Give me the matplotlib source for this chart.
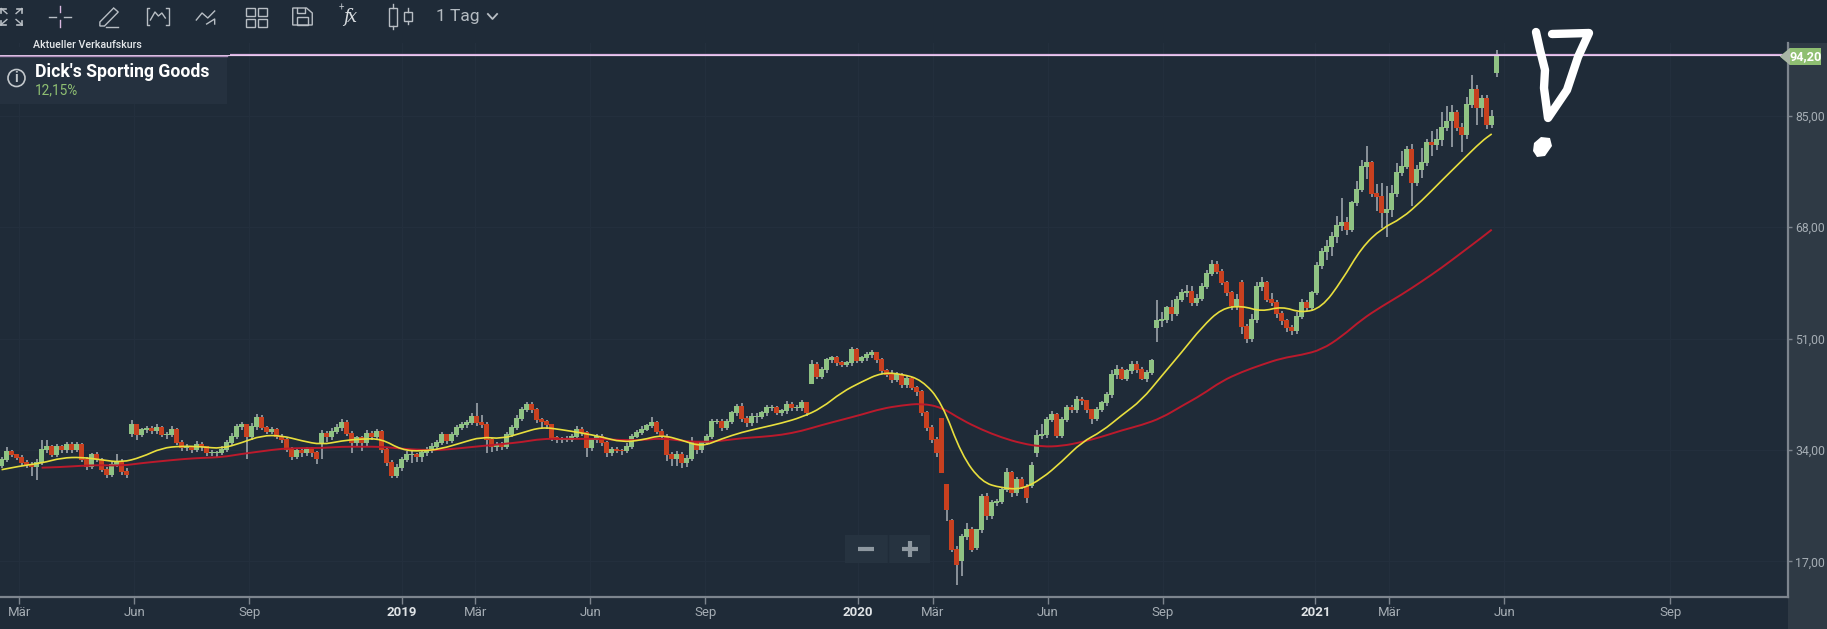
import matplotlib
matplotlib.use('Agg')
import matplotlib.dates as mdates
import matplotlib.pyplot as plt
from matplotlib.patches import Circle, PathPatch, Polygon, Rectangle
from matplotlib.path import Path
import numpy as np
import pandas as pd

plt.rcParams['font.family'] = ['Roboto', 'DejaVu Sans']

# One candle every four calendar days
first_candle = '2018-02-15'
opens = [
    31.6, 32.5, 33.7, 33.2, 32.8, 32.0, 31.7, 31.4, 32.0, 34.0,
    34.5, 33.2, 34.5, 34.0, 34.8, 34.0, 34.8, 32.5, 31.4, 33.2,
    32.5, 31.0, 30.2, 31.7, 32.2, 30.6, 36.4, 37.8, 36.3, 37.0,
    37.2, 36.9, 37.4, 36.3, 36.3, 37.0, 35.1, 34.3, 34.3, 34.0,
    34.8, 34.5, 33.5, 33.5, 33.5, 34.0, 35.1, 36.0, 37.5, 37.8,
    36.0, 37.5, 38.9, 37.3, 36.8, 37.1, 36.0, 35.5, 34.0, 33.0,
    33.8, 33.5, 34.0, 33.5, 34.9, 36.5, 36.0, 36.8, 37.3, 38.1,
    36.5, 35.0, 35.8, 35.0, 36.5, 36.0, 36.8, 34.0, 32.0, 30.0,
    31.2, 32.5, 33.3, 33.3, 33.0, 33.5, 34.0, 34.5, 35.0, 36.3,
    35.3, 36.3, 37.3, 37.8, 38.1, 39.1, 38.1, 37.8, 35.5, 34.5,
    34.8, 34.5, 36.3, 37.3, 38.8, 40.1, 40.9, 40.1, 38.6, 38.3,
    37.8, 35.8, 35.5, 35.6, 35.6, 36.0, 37.1, 36.6, 34.3, 35.5,
    36.0, 35.0, 33.5, 34.0, 33.9, 33.8, 34.5, 36.0, 36.6, 37.1,
    37.6, 38.1, 36.8, 36.0, 33.3, 32.7, 33.3, 32.0, 32.7, 35.0,
    34.0, 35.0, 36.0, 38.3, 38.3, 37.3, 38.3, 39.6, 40.6, 38.8,
    38.1, 39.1, 39.1, 39.6, 40.4, 40.4, 39.6, 39.9, 40.9, 40.4,
    40.4, 41.1, 44.0, 47.0, 45.2, 46.2, 47.7, 48.0, 47.2, 47.0,
    47.2, 49.3, 47.5, 48.0, 48.5, 48.8, 47.7, 46.0, 45.5, 44.7,
    45.5, 43.9, 44.9, 43.4, 42.9, 39.6, 37.3, 35.5, 38.8, 28.6,
    23.2, 18.8, 17.0, 20.8, 21.8, 19.0, 21.8, 26.9, 23.9, 25.9,
    26.1, 27.9, 30.5, 27.4, 29.4, 28.4, 28.5, 33.6, 36.1, 36.3,
    38.6, 39.4, 36.1, 38.6, 40.4, 40.1, 41.6, 41.4, 40.1, 38.8,
    40.1, 41.1, 42.4, 45.5, 46.2, 44.9, 46.0, 47.0, 46.2, 44.9,
    45.7, 52.6, 53.6, 53.8, 55.6, 54.8, 56.9, 57.9, 58.1, 56.4,
    57.1, 58.9, 60.9, 62.2, 61.2, 59.4, 57.9, 55.9, 59.4, 52.8,
    51.0, 53.8, 58.9, 59.4, 56.9, 56.4, 54.8, 53.6, 52.6, 52.1,
    54.3, 56.4, 55.6, 57.9, 62.0, 64.2, 65.0, 66.5, 68.1, 68.6,
    67.6, 71.6, 73.7, 77.2, 77.7, 73.1, 72.6, 70.1, 70.6, 73.1,
    76.2, 77.2, 79.8, 74.7, 76.7, 77.7, 80.8, 80.5, 81.3, 83.1,
    84.1, 85.4, 83.1, 82.0, 86.6, 88.9, 86.1, 87.6, 83.6, 91.5,
]
closes = [
    32.5, 33.7, 33.2, 32.8, 32.0, 31.7, 31.4, 32.0, 34.0, 34.5,
    33.2, 34.5, 34.0, 34.8, 34.0, 34.8, 32.5, 31.4, 33.2, 32.5,
    31.0, 30.2, 31.7, 32.2, 30.6, 30.2, 37.8, 36.3, 37.0, 37.2,
    36.9, 37.4, 36.3, 36.3, 37.0, 35.1, 34.3, 34.3, 34.0, 34.8,
    34.5, 33.5, 33.5, 33.5, 34.0, 35.1, 36.0, 37.5, 37.8, 36.0,
    37.5, 38.9, 37.3, 36.8, 37.1, 36.0, 35.5, 34.0, 33.0, 33.8,
    33.5, 34.0, 33.5, 32.7, 36.5, 36.0, 36.8, 37.3, 38.1, 36.5,
    35.0, 35.8, 35.0, 36.5, 36.0, 36.8, 34.0, 32.0, 30.0, 31.2,
    32.5, 33.3, 33.3, 33.0, 33.5, 34.0, 34.5, 35.0, 36.3, 35.3,
    36.3, 37.3, 37.8, 38.1, 39.1, 38.1, 37.8, 35.5, 34.5, 34.8,
    34.5, 36.3, 37.3, 38.8, 40.1, 40.9, 40.1, 38.6, 38.3, 37.8,
    35.8, 35.5, 35.6, 35.6, 36.0, 37.1, 36.6, 34.3, 35.5, 36.0,
    35.0, 33.5, 34.0, 33.9, 33.8, 34.5, 36.0, 36.6, 37.1, 37.6,
    38.1, 36.8, 36.0, 33.3, 32.7, 33.3, 32.0, 32.7, 35.0, 34.0,
    35.0, 36.0, 38.3, 38.3, 37.3, 38.3, 39.6, 40.6, 38.8, 38.1,
    39.1, 39.1, 39.6, 40.4, 40.4, 39.6, 39.9, 40.9, 40.4, 40.4,
    41.1, 39.6, 47.0, 45.2, 46.2, 47.7, 48.0, 47.2, 47.0, 47.2,
    49.3, 47.5, 48.0, 48.5, 48.8, 47.7, 46.0, 45.5, 44.7, 45.5,
    43.9, 44.9, 43.4, 42.9, 39.6, 37.3, 35.5, 33.5, 30.5, 24.9,
    18.8, 16.5, 20.8, 21.8, 18.8, 21.8, 26.9, 23.9, 25.9, 26.1,
    27.9, 30.5, 27.4, 29.4, 28.4, 26.7, 31.5, 36.1, 36.3, 38.6,
    39.4, 36.1, 38.6, 40.4, 40.1, 41.6, 41.4, 40.1, 38.8, 40.1,
    41.1, 42.4, 45.5, 46.2, 44.9, 46.0, 47.0, 46.2, 44.9, 45.7,
    47.5, 53.6, 53.8, 55.6, 54.8, 56.9, 57.9, 58.1, 56.4, 57.1,
    58.9, 60.9, 62.2, 61.2, 59.4, 57.9, 55.9, 56.9, 52.8, 51.0,
    53.8, 58.9, 59.4, 56.9, 56.4, 54.8, 53.6, 52.6, 52.1, 54.3,
    56.4, 55.6, 57.9, 62.0, 64.2, 65.0, 66.5, 68.1, 68.6, 67.6,
    71.6, 73.7, 77.2, 77.7, 73.1, 72.6, 70.1, 70.6, 73.1, 76.2,
    77.2, 79.8, 74.7, 76.7, 77.7, 80.8, 80.5, 81.3, 83.1, 84.1,
    85.4, 83.1, 82.0, 86.6, 88.9, 86.1, 87.6, 83.6, 84.8, 94.2,
]
highs = [
    33.0, 34.4, 34.0, 33.4, 33.2, 32.4, 32.2, 32.6, 35.5, 35.6,
    34.8, 34.9, 34.8, 35.2, 35.2, 35.2, 35.0, 32.9, 33.6, 33.7,
    32.8, 31.4, 32.2, 33.4, 32.6, 31.2, 38.6, 38.0, 37.4, 37.6,
    37.6, 38.0, 37.6, 36.8, 37.6, 37.3, 35.5, 34.9, 34.6, 35.3,
    35.2, 34.6, 34.0, 33.9, 34.6, 35.6, 36.6, 38.0, 38.3, 38.0,
    38.1, 39.5, 39.4, 37.7, 37.5, 37.4, 36.4, 35.8, 34.4, 34.2,
    34.2, 34.4, 34.4, 33.8, 37.0, 36.9, 37.3, 37.9, 38.8, 38.6,
    36.9, 36.2, 36.2, 37.0, 36.9, 37.2, 37.0, 34.4, 32.4, 31.8,
    33.0, 33.9, 34.0, 33.6, 33.9, 34.5, 35.0, 35.5, 36.8, 36.5,
    36.7, 37.8, 38.2, 38.6, 39.6, 41.1, 39.4, 38.2, 35.9, 35.2,
    35.2, 36.8, 37.8, 39.4, 40.6, 41.3, 41.3, 40.4, 38.9, 38.6,
    38.0, 36.1, 36.0, 36.1, 36.4, 37.6, 37.5, 36.9, 35.9, 36.5,
    36.4, 35.4, 34.4, 34.5, 34.2, 35.0, 36.5, 37.1, 37.6, 38.0,
    39.0, 38.4, 37.2, 36.5, 33.7, 33.8, 33.7, 33.2, 36.0, 35.3,
    35.4, 36.5, 38.8, 38.8, 38.7, 38.8, 40.0, 41.0, 41.2, 39.2,
    39.6, 39.6, 40.0, 40.8, 40.9, 40.7, 40.3, 41.4, 41.3, 40.8,
    41.6, 41.3, 47.7, 47.4, 46.6, 48.1, 48.4, 48.3, 47.6, 47.6,
    49.7, 49.6, 48.4, 48.9, 49.2, 49.0, 48.0, 46.4, 46.2, 45.9,
    45.7, 45.3, 45.2, 43.8, 43.2, 40.0, 37.8, 36.0, 38.8, 28.8,
    23.4, 19.4, 21.2, 22.9, 22.2, 22.0, 27.3, 27.4, 26.4, 26.6,
    28.4, 31.2, 30.8, 29.9, 29.9, 28.8, 32.1, 37.0, 37.9, 39.0,
    39.9, 39.7, 39.0, 40.9, 40.8, 42.2, 42.1, 41.7, 40.3, 40.5,
    41.5, 42.8, 46.2, 47.0, 46.6, 46.4, 47.6, 47.5, 46.6, 46.2,
    47.9, 56.9, 55.0, 56.0, 56.8, 57.5, 58.6, 59.2, 59.0, 57.8,
    59.4, 61.5, 63.0, 62.8, 61.6, 59.8, 58.2, 57.8, 60.0, 53.2,
    54.8, 59.6, 60.4, 59.8, 57.9, 56.8, 55.2, 54.0, 53.0, 55.0,
    57.0, 56.9, 58.2, 62.6, 64.8, 66.0, 67.2, 69.7, 72.5, 69.5,
    72.0, 75.0, 78.3, 80.3, 78.0, 74.5, 74.7, 74.2, 74.4, 77.8,
    79.6, 80.4, 80.6, 77.4, 80.0, 81.4, 82.6, 83.0, 85.5, 86.4,
    86.6, 85.9, 83.9, 87.8, 91.2, 89.6, 88.1, 88.2, 85.9, 95.0,
]
lows = [
    31.2, 32.2, 32.9, 32.4, 31.6, 31.3, 30.1, 29.4, 31.7, 33.6,
    32.9, 32.9, 33.6, 33.6, 33.6, 33.7, 32.2, 31.0, 31.1, 32.1,
    30.6, 29.8, 29.9, 31.4, 30.2, 29.8, 36.0, 35.6, 36.0, 36.6,
    36.4, 36.5, 36.0, 35.7, 36.0, 34.8, 33.9, 33.8, 33.5, 33.7,
    33.9, 33.1, 33.1, 33.0, 33.2, 33.7, 34.8, 35.7, 37.1, 32.6,
    35.6, 37.1, 37.0, 36.4, 36.4, 35.7, 35.1, 33.7, 32.5, 32.6,
    33.0, 33.1, 33.0, 31.8, 32.6, 35.2, 35.6, 36.4, 36.9, 36.1,
    33.6, 34.5, 33.9, 34.4, 35.6, 35.5, 33.5, 31.6, 29.7, 29.8,
    30.8, 32.1, 32.0, 32.1, 32.1, 33.1, 33.6, 34.1, 34.7, 34.9,
    35.0, 36.0, 37.0, 37.4, 37.8, 37.6, 37.4, 33.6, 33.7, 33.9,
    34.0, 34.2, 36.0, 37.0, 38.4, 39.8, 39.7, 38.1, 37.3, 37.2,
    35.3, 35.0, 35.1, 35.2, 35.2, 35.7, 36.2, 32.9, 33.9, 35.1,
    34.6, 33.0, 33.1, 33.5, 33.3, 33.5, 34.2, 35.8, 36.3, 36.9,
    37.3, 36.4, 35.5, 32.3, 31.6, 31.5, 31.2, 31.4, 32.3, 33.4,
    33.5, 34.7, 35.7, 37.9, 36.9, 37.0, 38.0, 39.2, 38.3, 37.5,
    37.7, 38.1, 38.8, 39.2, 39.9, 39.3, 39.2, 39.5, 39.9, 39.9,
    40.0, 39.2, 44.0, 44.8, 44.8, 45.8, 47.3, 46.8, 46.7, 46.7,
    46.8, 47.2, 47.2, 47.6, 48.1, 47.3, 45.6, 45.1, 44.2, 44.4,
    43.5, 43.5, 43.1, 42.2, 39.2, 36.9, 35.1, 32.9, 30.5, 23.2,
    18.4, 13.4, 14.8, 20.2, 18.4, 18.7, 21.4, 23.3, 23.5, 25.5,
    25.8, 27.6, 26.9, 27.0, 28.0, 25.9, 28.2, 33.0, 35.7, 35.9,
    38.2, 35.9, 35.8, 38.2, 39.7, 39.7, 40.8, 39.6, 37.9, 38.4,
    39.8, 40.7, 42.0, 44.9, 44.6, 44.5, 45.6, 45.8, 44.6, 44.4,
    45.4, 50.5, 52.8, 53.4, 53.7, 54.4, 56.6, 57.4, 55.9, 55.9,
    56.7, 58.5, 60.5, 60.8, 59.1, 57.5, 55.3, 55.4, 51.7, 50.3,
    50.4, 53.4, 58.2, 56.5, 55.9, 54.2, 53.0, 52.0, 51.5, 51.7,
    54.0, 55.2, 55.2, 57.6, 61.6, 63.0, 63.6, 65.6, 67.4, 66.8,
    67.2, 71.2, 73.3, 75.4, 72.6, 70.5, 67.8, 66.5, 69.6, 72.6,
    75.8, 76.8, 71.2, 74.3, 75.5, 77.3, 78.8, 79.8, 80.3, 82.6,
    80.2, 82.6, 79.5, 81.5, 86.1, 83.5, 84.8, 82.9, 83.1, 90.9,
]

# Moving averages, one reading every 16 days plus the last candle
ma_fast = [
    31.0, 31.6, 32.0, 32.8, 32.9, 32.5, 32.1, 32.9, 34.3, 34.6,
    34.5, 34.2, 35.1, 36.2, 36.2, 35.4, 34.8, 35.4, 35.7, 35.7,
    34.0, 33.8, 34.2, 35.1, 36.0, 35.7, 36.6, 37.5, 37.1, 36.6,
    36.0, 35.2, 35.5, 36.3, 35.5, 34.5, 35.7, 36.7, 37.4, 38.1,
    39.0, 40.4, 42.8, 44.4, 45.8, 45.6, 44.7, 41.3, 33.2, 29.1,
    28.2, 28.0, 29.6, 32.2, 35.2, 36.8, 39.3, 41.6, 45.3, 48.9,
    52.7, 55.6, 56.0, 55.1, 55.9, 54.9, 55.7, 59.8, 64.9, 67.8,
    69.3, 72.0, 75.1, 78.1, 81.1, 82.2,
]
ma_slow = [
    31.3, 31.4, 31.6, 31.7, 31.6, 32.0, 32.3, 32.6, 32.8, 32.9,
    33.4, 33.8, 34.2, 34.3, 34.3, 34.5, 34.5, 34.5, 34.2, 34.0,
    34.0, 34.3, 34.6, 34.9, 35.2, 35.7, 35.7, 35.7, 35.7, 35.5,
    35.5, 35.8, 35.4, 35.2, 35.4, 35.8, 36.0, 36.3, 36.9, 37.8,
    38.6, 39.4, 40.3, 40.8, 41.1, 40.5, 38.6, 37.1, 35.9, 35.0,
    34.5, 34.6, 35.2, 36.0, 37.0, 37.8, 38.9, 40.7, 42.4, 44.5,
    45.9, 47.0, 48.0, 48.5, 49.3, 51.3, 53.9, 55.9, 57.7, 59.7,
    61.8, 64.1, 66.4, 67.6,
]

current_price = 94.20
price_ticks = [17, 34, 51, 68, 85]
# the platform spaces the months after the last candle wider than calendar time
month_ticks = ['2018-03-01', '2018-06-01', '2018-09-01', '2019-01-01', '2019-03-01',
               '2019-06-01', '2019-09-01', '2020-01-01', '2020-03-01', '2020-06-01',
               '2020-09-01', '2021-01-01', '2021-03-01', '2021-06-01', '2021-10-12']
month_labels = ['Mär', 'Jun', 'Sep', '2019', 'Mär', 'Jun', 'Sep', '2020', 'Mär', 'Jun',
                'Sep', '2021', 'Mär', 'Jun', 'Sep']

WIDTH, HEIGHT = 1827, 629
BG = '#1f2b38'
PANEL = '#2f3a45'
AXIS = '#7d858e'
LABEL = '#a5adb4'
ICON = '#b8bec4'
UP = '#8fc283'
DOWN = '#c8401f'
WICK = '#a8aeb4'
GREEN = '#8fbf72'


def draw_candles(ax, dates):
    x = mdates.date2num(dates)
    o, c = np.array(opens), np.array(closes)
    colors = [UP if c[i] >= o[i] else DOWN for i in range(len(c))]
    ax.vlines(x, lows, highs, color=WICK, linewidth=1.1, zorder=3)
    ax.bar(x, np.abs(c - o) + 0.15, width=3.6, bottom=np.minimum(o, c), color=colors,
           linewidth=0, zorder=4)


def draw_smooth_line(ax, dates, values, color, lw, zorder):
    """Rounds the corners of a reading-to-reading line, the readings stay as they are."""
    x = mdates.date2num(dates)
    y = np.array(values)
    verts = [(x[0], y[0])]
    codes = [Path.MOVETO]
    for i in range(1, len(x) - 1):
        verts.append((x[i], y[i]))
        codes.append(Path.CURVE3)
        verts.append(((x[i] + x[i + 1]) / 2, (y[i] + y[i + 1]) / 2))
        codes.append(Path.CURVE3)
    verts.append((x[-1], y[-1]))
    codes.append(Path.LINETO)
    ax.add_patch(PathPatch(Path(verts, codes), fill=False, ec=color, lw=lw, zorder=zorder))


def draw_toolbar(tb):
    y = 16.5
    # expand arrows
    for sx, sy in [(-1, -1), (1, -1), (-1, 1), (1, 1)]:
        x0, y0 = 10 + sx * 4, y + sy * 3
        x1, y1 = 10 + sx * 9, y + sy * 8
        tb.plot([x0, x1], [y0, y1], color=ICON, lw=1)
        tb.plot([x1, x1 - sx * 4], [y1, y1], color=ICON, lw=1.2)
        tb.plot([x1, x1], [y1, y1 - sy * 4], color=ICON, lw=1.2)
    # crosshair
    tb.plot([43, 49], [y, y], color=ICON, lw=1)
    tb.plot([56, 62], [y, y], color=ICON, lw=1)
    tb.plot([52.5, 52.5], [6, 12], color='#d9b8e0', lw=1)
    tb.plot([52.5, 52.5], [20, 27], color='#d9b8e0', lw=1)
    # pencil
    tb.add_patch(Polygon([(87, 22), (87, 26), (91, 26), (103, 12), (99, 8)],
                         fill=False, ec=ICON, lw=1))
    tb.plot([92, 103], [26.5, 26.5], color=ICON, lw=1)
    # bracket chart
    tb.plot([130, 128, 128, 130], [8, 8, 25, 25], color=ICON, lw=1)
    tb.plot([145, 147, 147, 145], [8, 8, 25, 25], color=ICON, lw=1)
    tb.plot([131, 135, 138, 141, 144], [20, 12, 16, 13, 18], color=ICON, lw=1)
    # line with arrow
    tb.plot([171, 176, 181, 187], [20, 13, 18, 11], color=ICON, lw=1)
    tb.plot([180, 187, 187], [24, 19, 24], color=ICON, lw=1)
    # grid
    for gx in [214, 225]:
        for gy in [8, 19]:
            tb.add_patch(Rectangle((gx, gy), 8, 7.5, fill=False, ec=ICON, lw=1))
    # floppy
    tb.add_patch(Polygon([(255, 8), (267, 8), (272, 13), (272, 25), (255, 25)],
                         fill=False, ec=ICON, lw=1))
    tb.add_patch(Rectangle((259, 17), 9, 8, fill=False, ec=ICON, lw=1))
    tb.plot([259, 259, 266, 266], [8, 13, 13, 8], color=ICON, lw=1)
    # fx
    tb.text(305, y + 1, '$f\\!x$', color='#d8dce0', fontsize=13, ha='center', va='center',
            fontweight='bold', math_fontfamily='dejavuserif')
    tb.text(297, 8, '+', color=ICON, fontsize=7, ha='center', va='center')
    # candle type
    tb.add_patch(Rectangle((339, 8), 7, 18, fill=False, ec=ICON, lw=1))
    tb.plot([342.5, 342.5], [4, 8], color=ICON, lw=1)
    tb.plot([342.5, 342.5], [26, 29], color=ICON, lw=1)
    tb.add_patch(Rectangle((352, 12), 7, 9, fill=False, ec=ICON, lw=1))
    tb.plot([355.5, 355.5], [8, 12], color=ICON, lw=1)
    tb.plot([355.5, 355.5], [21, 24], color=ICON, lw=1)
    # period selector
    tb.text(380, y, '1 Tag', color='#b4bbc1', fontsize=12.5, ha='left', va='center')
    tb.plot([425, 429, 433], [14, 19, 14], color=ICON, lw=1.3)


def draw_overlay(ov):
    # label above the price line, cut off at its lower edge
    ov.text(33, 48, 'Aktueller Verkaufskurs', color='#e4e7ea', fontsize=7.7,
            ha='left', va='baseline', fontweight='medium')
    ov.add_patch(Rectangle((0, 47.3), 230, 7.5, color=BG, lw=0, zorder=2.5))
    ov.add_patch(Rectangle((0, 56.8), 227, 47.5, color='#25313f', lw=0, zorder=2))
    ov.plot([0, 227], [56, 56], color='#a98bb6', lw=1.0, zorder=3)

    ov.add_patch(Circle((16.5, 78), 8.5, fill=False, ec='#c3c8cc', lw=1.2, zorder=3))
    ov.text(16.5, 78.3, 'i', color='#c3c8cc', fontsize=10, ha='center', va='center',
            fontweight='bold', zorder=3)
    ov.text(35, 72, "Dick's Sporting Goods", color='white', fontsize=12.7, ha='left',
            va='center', fontweight='bold', zorder=3)
    ov.text(35, 90.5, '12,15%', color=GREEN, fontsize=9.8, ha='left', va='center', zorder=3)

    # price tag on the scale
    ov.add_patch(Polygon([(1780, 56.5), (1790, 48), (1821, 48), (1821, 65), (1790, 65)],
                         closed=True, color=GREEN, lw=0, zorder=3))
    ov.add_patch(Polygon([(1780, 56.5), (1790, 48), (1790, 65)],
                         closed=True, color='#a9b5a6', lw=0, zorder=3))
    ov.text(1805.5, 56.5, '94,20', color='white', fontsize=9.2, ha='center', va='center',
            fontweight='bold', zorder=4)

    # zoom buttons
    ov.add_patch(Rectangle((845, 535), 85, 28, color='#263340', lw=0, zorder=2))
    ov.plot([887.5, 887.5], [535, 563], color='#202c39', lw=1, zorder=2.5)
    ov.plot([858, 874], [549, 549], color='#8e98a0', lw=3, zorder=3, solid_capstyle='butt')
    ov.plot([902, 918], [549, 549], color='#8e98a0', lw=3, zorder=3, solid_capstyle='butt')
    ov.plot([910, 910], [541, 557], color='#8e98a0', lw=3, zorder=3, solid_capstyle='butt')

    # hand drawn exclamation mark
    sx = [1536, 1540, 1545, 1544, 1548, 1567, 1578, 1589, 1552]
    sy = [32, 50, 70, 88, 118, 90, 57, 33, 34]
    ov.plot(sx, sy, color='white', lw=6, solid_joinstyle='round',
            solid_capstyle='round', zorder=5)
    ov.add_patch(Polygon([(1534, 143), (1541, 137), (1550, 138), (1552, 146), (1545, 156),
                          (1537, 157), (1533, 151)], closed=True, color='white', lw=0, zorder=5))


def main():
    fig = plt.figure(figsize=(WIDTH / 100, HEIGHT / 100), dpi=100, facecolor=BG)

    axis_right = 1788
    axis_top = 43
    axis_bottom = 597
    ax = fig.add_axes([0, 1 - axis_bottom / HEIGHT, axis_right / WIDTH,
                       (axis_bottom - axis_top) / HEIGHT], facecolor=BG)

    dates = pd.date_range(first_candle, periods=len(closes), freq='4D')
    draw_candles(ax, dates)

    fast_dates = list(dates[::4]) + [dates[298]]
    slow_dates = list(dates[8::4]) + [dates[298]]
    draw_smooth_line(ax, slow_dates, ma_slow, '#bb1a2c', 1.4, 5)
    draw_smooth_line(ax, fast_dates, ma_fast, '#e8df3e', 1.2, 6)

    ax.axhline(current_price, color='#d8aee0', lw=1.6, zorder=6)
    ax.axhline(current_price, color='#f0d8f2', lw=0.5, zorder=6)

    ax.set_xlim(pd.Timestamp('2018-02-13 18:00'), pd.Timestamp('2022-01-14'))
    ax.set_ylim(11.58, 96.07)

    ticks = [pd.Timestamp(d) for d in month_ticks]
    ax.set_xticks(ticks)
    ax.set_xticklabels(month_labels)
    for lab in ax.get_xticklabels():
        if lab.get_text().isdigit():
            lab.set_color('#dfe3e6')
            lab.set_fontweight('bold')
        else:
            lab.set_color(LABEL)
    ax.tick_params(axis='x', length=5, width=1, color=AXIS, labelsize=9.5, pad=1.7)

    ax.yaxis.tick_right()
    ax.set_yticks(price_ticks)
    ax.set_yticklabels([('%.2f' % p).replace('.', ',') for p in price_ticks])
    ax.tick_params(axis='y', length=3, width=1, color=AXIS, labelcolor=LABEL,
                   labelsize=8.8, pad=2)

    ax.grid(True, color='#232f3d', lw=0.8)
    ax.set_axisbelow(True)

    for name in ['top', 'left']:
        ax.spines[name].set_visible(False)
    for name in ['bottom', 'right']:
        ax.spines[name].set_color(AXIS)
        ax.spines[name].set_linewidth(1.6)

    # lighter price scale on the right, behind everything
    fig.patches.append(Rectangle((axis_right / WIDTH, 0), 1 - axis_right / WIDTH,
                                 1 - axis_top / HEIGHT, transform=fig.transFigure,
                                 color=PANEL, lw=0, zorder=-1))

    # pixel overlay for the platform's own buttons and the hand drawn mark
    ov = fig.add_axes([0, 0, 1, 1], facecolor='none')
    ov.set_xlim(0, WIDTH)
    ov.set_ylim(HEIGHT, 0)
    ov.axis('off')
    draw_overlay(ov)

    # toolbar was measured on a crop shown smaller than the others
    tb = fig.add_axes([0, 0, 1, 1], facecolor='none')
    tb.set_xlim(0, WIDTH / 1.148)
    tb.set_ylim(HEIGHT, 0)
    tb.axis('off')
    draw_toolbar(tb)

    fig.savefig('out.png', dpi=100, facecolor=BG)


if __name__ == '__main__':
    main()
